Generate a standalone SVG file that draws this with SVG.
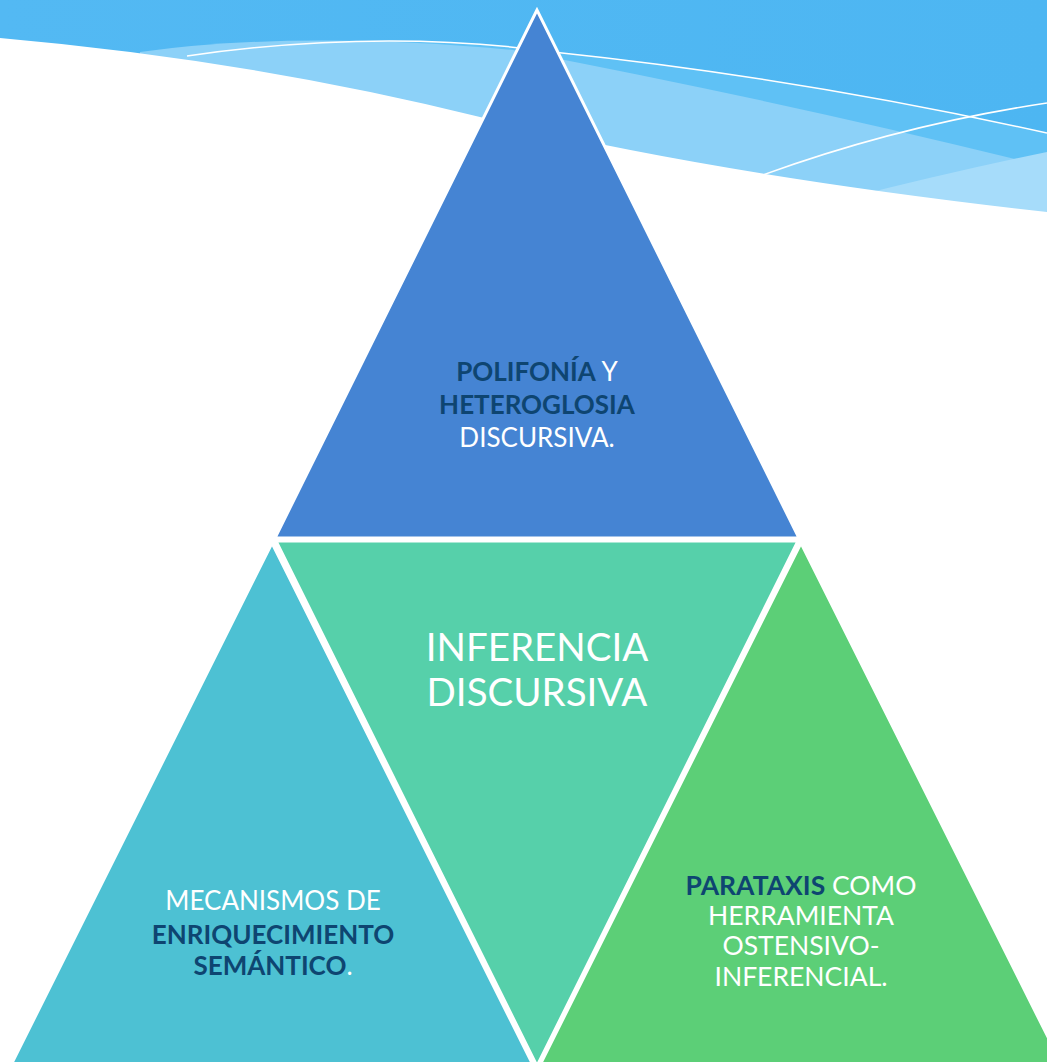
<svg xmlns="http://www.w3.org/2000/svg" width="1047" height="1062" viewBox="0 0 1047 1062">
<defs>
<linearGradient id="sky" x1="0" y1="0" x2="1" y2="0">
<stop offset="0" stop-color="#53B9F3"/>
<stop offset="1" stop-color="#4DB6F2"/>
</linearGradient>
<style>
.tri{stroke:#FFFFFF;stroke-width:3;stroke-linejoin:miter}
.t{font-family:Lato,"Open Sans","Liberation Sans",sans-serif;text-anchor:middle;fill:#FFFFFF}
.b{font-weight:bold;fill:#0E4571}
.wl{fill:none;stroke:#FFFFFF;stroke-width:1.5}
</style>
</defs>
<rect width="1047" height="1062" fill="#FFFFFF"/>
<g id="background">
<rect x="0" y="0" width="1047" height="230" fill="url(#sky)"/>
<path d="M187,56 Q380,28 553,52 Q800,78 1047,133 V260 H187 Z" fill="#5FC1F5"/>
<path d="M140,52 Q300,30 513,50 Q800,105 1047,167 V260 H140 Z" fill="#8CD1F8"/>
<path d="M840,200 Q950,172 1047,152 V260 H840 Z" fill="#A6DCFA"/>
<path class="wl" d="M187,56 Q380,28 553,52 Q800,78 1047,133"/>
<path class="wl" d="M760,176 Q900,125 1047,103"/>
<path d="M0,38 Q250,60 480,117 T1047,212 V1062 H0 Z" fill="#FFFFFF"/>
</g>
<g id="node-top">
<polygon class="tri" points="537,10 275,538 799,538" fill="#4584D3"/>
<text class="t" font-size="26"><tspan x="537" y="381"><tspan class="b">POLIFONÍA</tspan> Y</tspan><tspan x="537" y="414" class="b">HETEROGLOSIA</tspan><tspan x="537" y="447">DISCURSIVA.</tspan></text>
</g>
<g id="node-center">
<polygon class="tri" points="276,541 798,541 537,1066" fill="#56D0AA"/>
<text class="t" font-size="38.5"><tspan x="537" y="661">INFERENCIA</tspan><tspan x="537" y="706">DISCURSIVA</tspan></text>
</g>
<g id="node-left">
<polygon class="tri" points="272,543 11,1065 533,1065" fill="#4DC1D3"/>
<text class="t" font-size="26"><tspan x="273" y="910">MECANISMOS DE</tspan><tspan x="273" y="944" class="b">ENRIQUECIMIENTO</tspan><tspan x="273" y="975"><tspan class="b">SEMÁNTICO</tspan>.</tspan></text>
</g>
<g id="node-right">
<polygon class="tri" points="801,543 540,1065 1062,1065" fill="#5CCF77"/>
<text class="t" font-size="26.5"><tspan x="801" y="895"><tspan class="b">PARATAXIS</tspan> COMO</tspan><tspan x="801" y="925">HERRAMIENTA</tspan><tspan x="801" y="955">OSTENSIVO-</tspan><tspan x="801" y="986">INFERENCIAL.</tspan></text>
</g>
<g id="connectors"></g>
</svg>
